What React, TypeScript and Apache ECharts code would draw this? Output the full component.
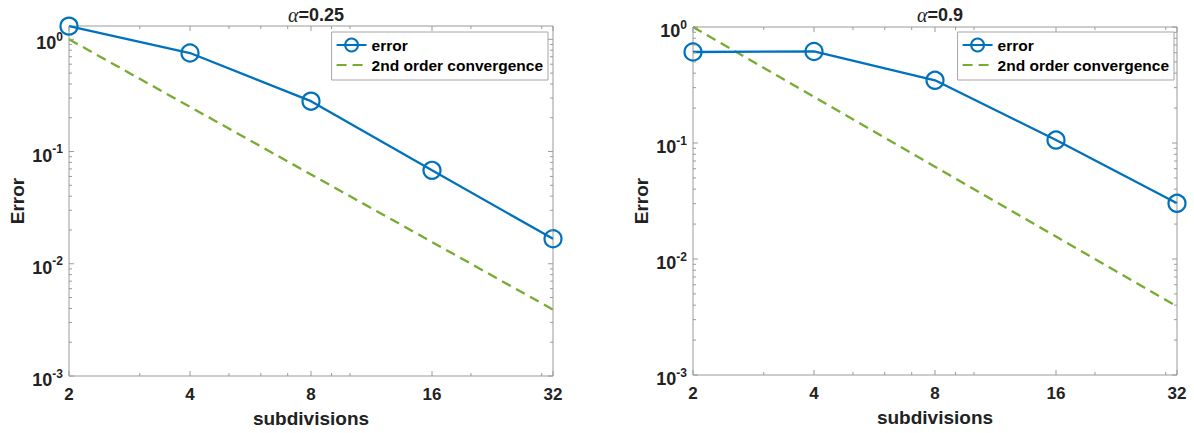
import React, { useEffect, useRef } from 'react';
import * as echarts from 'echarts';

const subdivisions = [2, 4, 8, 16, 32];
const errorAlpha025 = [1.31, 0.755, 0.281, 0.068, 0.0167];
const errorAlpha09 = [0.609, 0.615, 0.347, 0.106, 0.0302];
const secondOrder = [1, 0.25, 0.0625, 0.015625, 0.00390625];
const alphaLabels = ['0.25', '0.9'];
const errorSets = [errorAlpha025, errorAlpha09];
const yMins = [0.001, 0.001];
const yMaxs = [1.314, 1];
const xMajorTicks = [2, 4, 8, 16, 32];
const xMinorTicks = [3, 5, 6, 7, 9, 10, 20, 30];
const yMajorTicks = [0.001, 0.01, 0.1, 1];
const yMinorTicks = [
  0.002, 0.003, 0.004, 0.005, 0.006, 0.007, 0.008, 0.009,
  0.02, 0.03, 0.04, 0.05, 0.06, 0.07, 0.08, 0.09,
  0.2, 0.3, 0.4, 0.5, 0.6, 0.7, 0.8, 0.9,
];

const FONT = '"Liberation Sans", Arial, Helvetica, sans-serif';
const BLUE = '#0072BD';
const GREEN = '#77AC30';
const AXIS = '#9a9a9a';
const TEXT = '#222222';

const grids = [
  { left: 69, top: 26, width: 484, height: 350 },
  { left: 693, top: 27, width: 484, height: 348 },
];
const legendRights = [1194 - 548, 1194 - 1174];

export default function App() {
  const ref = useRef<HTMLDivElement>(null);
  useEffect(() => {
    if (!ref.current) return;
    const chart = echarts.init(ref.current, null, { renderer: 'svg' });

    const tickSeries = (gi: number) => ({
      type: 'custom',
      name: 'ticks' + gi,
      xAxisIndex: gi,
      yAxisIndex: gi,
      silent: true,
      z: 5,
      clip: false,
      data: [[4, 0.1]],
      renderItem: (_params: any, api: any) => {
        const children: any[] = [];
        const yMin = yMins[gi];
        const yMax = yMaxs[gi];
        const p0 = api.coord([2, yMin]);
        const p1 = api.coord([32, yMax]);
        const left = p0[0];
        const right = p1[0];
        const bottom = p0[1];
        const top = p1[1];
        const style = { stroke: AXIS, lineWidth: 1 };
        const add = (x1: number, y1: number, x2: number, y2: number) =>
          children.push({ type: 'line', shape: { x1, y1, x2, y2 }, style });
        xMajorTicks.forEach((v) => {
          const x = api.coord([v, yMin])[0];
          add(x, bottom, x, bottom - 5);
          add(x, top, x, top + 5);
        });
        xMinorTicks.forEach((v) => {
          const x = api.coord([v, yMin])[0];
          add(x, bottom, x, bottom - 3);
          add(x, top, x, top + 3);
        });
        yMajorTicks.forEach((v) => {
          if (v > yMax) return;
          const y = api.coord([2, v])[1];
          add(left, y, left + 5, y);
          add(right, y, right - 5, y);
        });
        yMinorTicks.forEach((v) => {
          if (v > yMax) return;
          const y = api.coord([2, v])[1];
          add(left, y, left + 3, y);
          add(right, y, right - 3, y);
        });
        return { type: 'group', children };
      },
    });

    const yFormatter = (v: number) => {
      const e = Math.log10(v);
      const r = Math.round(e);
      if (Math.abs(e - r) > 1e-6) return '';
      return '{b|10}{s|' + r + '}';
    };

    const option: any = {
      animation: false,
      backgroundColor: '#ffffff',
      textStyle: { fontFamily: FONT },
      title: grids.map((g, i) => ({
        text: '{a|α}=' + alphaLabels[i],
        left: g.left + g.width / 2,
        textAlign: 'center',
        top: 0,
        textStyle: {
          fontFamily: FONT,
          fontWeight: 'bold',
          fontSize: 18,
          color: TEXT,
          rich: {
            a: {
              fontFamily: '"Liberation Serif", "DejaVu Serif", serif',
              fontStyle: 'italic',
              fontWeight: 'normal',
              fontSize: 20,
              color: TEXT,
            },
          },
        },
      })),
      legend: grids.map((g, i) => ({
        orient: 'vertical',
        right: legendRights[i],
        top: 32,
        data: [
          { name: 'error' },
          { name: '2nd order convergence', itemStyle: { opacity: 0 } },
        ],
        itemWidth: 30,
        itemHeight: 16,
        itemGap: 4,
        padding: [5, 5, 7, 4],
        backgroundColor: '#ffffff',
        borderColor: '#a6a6a6',
        borderWidth: 1,
        selectedMode: false,
        textStyle: { fontFamily: FONT, fontWeight: 'bold', fontSize: 15.5, color: '#000' },
      })),
      grid: grids.map((g) => ({
        ...g,
        show: true,
        borderColor: AXIS,
        borderWidth: 1,
        backgroundColor: '#ffffff',
      })),
      xAxis: grids.map((_g, i) => ({
        gridIndex: i,
        type: 'log',
        logBase: 2,
        min: 2,
        max: 32,
        name: 'subdivisions',
        nameLocation: 'middle',
        nameGap: 33,
        nameTextStyle: { fontFamily: FONT, fontWeight: 'bold', fontSize: 19, color: TEXT },
        axisLine: { show: false },
        axisTick: { show: false },
        splitLine: { show: false },
        axisLabel: {
          margin: 10,
          fontFamily: FONT,
          fontWeight: 'bold',
          fontSize: 17,
          color: TEXT,
          formatter: (v: number) => String(Math.round(v)),
        },
      })),
      yAxis: grids.map((_g, i) => ({
        gridIndex: i,
        type: 'log',
        logBase: 10,
        min: yMins[i],
        max: yMaxs[i],
        name: 'Error',
        nameLocation: 'middle',
        nameRotate: 90,
        nameGap: 42,
        nameTextStyle: { fontFamily: FONT, fontWeight: 'bold', fontSize: 19, color: TEXT },
        axisLine: { show: false },
        axisTick: { show: false },
        splitLine: { show: false },
        axisLabel: {
          margin: 6,
          padding: [8, 0, 0, 0],
          formatter: yFormatter,
          rich: {
            b: { fontFamily: FONT, fontWeight: 'bold', fontSize: 18, color: TEXT },
            s: { fontFamily: FONT, fontWeight: 'bold', fontSize: 12, color: TEXT, padding: [0, 0, 13, 0] },
          },
        },
      })),
      series: [
        ...grids.flatMap((_g, i) => [
          {
            type: 'line',
            name: 'error',
            xAxisIndex: i,
            yAxisIndex: i,
            data: subdivisions.map((x, k) => [x, errorSets[i][k]]),
            symbol: 'circle',
            symbolSize: 17,
            showSymbol: true,
            clip: false,
            lineStyle: { color: BLUE, width: 2.3 },
            itemStyle: { color: 'rgba(255,255,255,0)', borderColor: BLUE, borderWidth: 2.2 },
            z: 3,
          },
          {
            type: 'line',
            name: '2nd order convergence',
            xAxisIndex: i,
            yAxisIndex: i,
            data: subdivisions.map((x, k) => [x, secondOrder[k]]),
            symbol: 'none',
            showSymbol: false,
            lineStyle: { color: GREEN, width: 2.3, type: [10, 6] },
            itemStyle: { color: GREEN },
            z: 2,
          },
        ]),
        tickSeries(0),
        tickSeries(1),
      ],
    };
    chart.setOption(option);
    return () => chart.dispose();
  }, []);

  return (
    <div
      ref={ref}
      style={{ position: 'fixed', left: 0, top: 0, width: 1194, height: 433 }}
    />
  );
}
